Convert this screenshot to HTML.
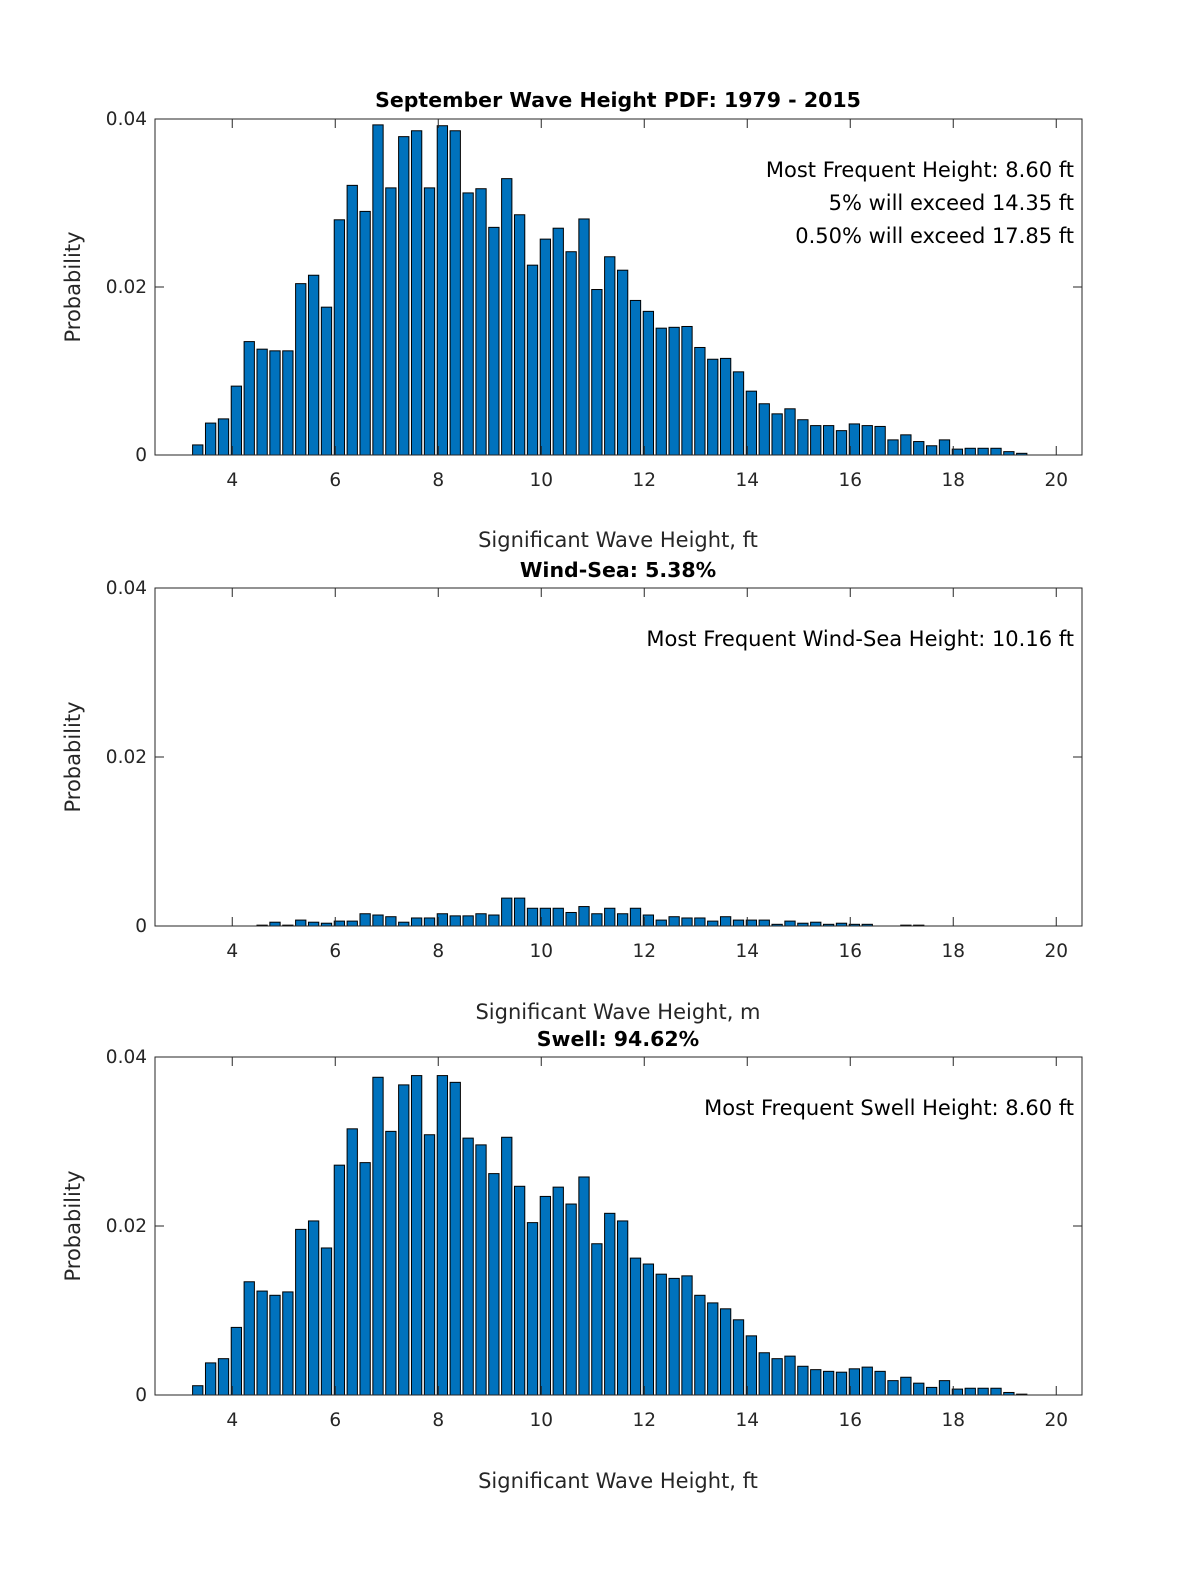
<!DOCTYPE html>
<html><head><meta charset="utf-8"><style>
body{margin:0;background:#fff;}
svg{display:block;font-family:"DejaVu Sans","Liberation Sans",sans-serif;}
</style></head><body>
<svg id="fig" width="1200" height="1575" viewBox="0 0 1200 1575" xmlns="http://www.w3.org/2000/svg"></svg>
<script>
const binStart = 3.33;
const binStep = 0.25;
const xTicks = [4, 6, 8, 10, 12, 14, 16, 18, 20];
const yTicks = [0, 0.02, 0.04];
const yTickLabels = ["0", "0.02", "0.04"];
const totalValues = [.0012,.0038,.0043,.0082,.0135,.0126,.0124,.0124,.0204,.0214,.0176,.0280,.0321,.0290,.0393,.0318,.0379,.0386,.0318,.0392,.0386,.0312,.0317,.0271,.0329,.0286,.0226,.0257,.0270,.0242,.0281,.0197,.0236,.0220,.0184,.0171,.0151,.0152,.0153,.0128,.0114,.0115,.0099,.0076,.0061,.0049,.0055,.0042,.0035,.0035,.0029,.0037,.0035,.0034,.0018,.0024,.0016,.0011,.0018,.0007,.0008,.0008,.0008,.0004,.0002];
const windValues = [0,0,0,0,0,.0001,.00045,.0001,.0007,.00045,.00033,.00058,.00058,.00145,.0013,.0011,.00045,.00095,.00095,.00145,.0012,.0012,.00145,.0013,.0033,.0033,.0021,.0021,.0021,.0016,.0023,.00145,.0021,.00145,.0021,.0013,.0007,.0011,.00095,.00095,.00058,.0011,.0007,.0007,.0007,.0002,.00058,.00033,.00045,.0002,.00033,.0002,.0002,0,0,.0001,.0001,0,0,0,0,0,0,0,0];
const swellValues = [.0011,.0038,.0043,.0080,.0134,.0123,.0118,.0122,.0196,.0206,.0174,.0272,.0315,.0275,.0376,.0312,.0367,.0378,.0308,.0378,.0370,.0304,.0296,.0262,.0305,.0247,.0204,.0235,.0246,.0226,.0258,.0179,.0215,.0206,.0162,.0155,.0143,.0138,.0141,.0118,.0109,.0102,.0089,.0070,.0050,.0043,.0046,.0034,.0030,.0028,.0027,.0031,.0033,.0028,.0017,.0021,.0014,.0009,.0017,.0007,.0008,.0008,.0008,.0003,.0001];

const NS="http://www.w3.org/2000/svg";
const svg=document.getElementById('fig');
function mk(tag,attrs,parent,text){const e=document.createElementNS(NS,tag);for(const k in attrs)e.setAttribute(k,attrs[k]);if(text!==undefined)e.textContent=text;(parent||svg).appendChild(e);return e;}

const X0=155,X1=1082,XMIN=2.5,XMAX=20.5;
function xs(v){return X0+(v-XMIN)/(XMAX-XMIN)*(X1-X0);}

const panels=[
 {name:'total',top:119,bot:455,vals:totalValues,title:'September Wave Height PDF: 1979 - 2015',titleY:107,xlabel:'Significant Wave Height, ft',xlabelY:547,notes:['Most Frequent Height: 8.60 ft','5% will exceed 14.35 ft','0.50% will exceed 17.85 ft']},
 {name:'wind-sea',top:588,bot:926,vals:windValues,title:'Wind-Sea: 5.38%',titleY:577,xlabel:'Significant Wave Height, m',xlabelY:1019,notes:['Most Frequent Wind-Sea Height: 10.16 ft']},
 {name:'swell',top:1057,bot:1395,vals:swellValues,title:'Swell: 94.62%',titleY:1046,xlabel:'Significant Wave Height, ft',xlabelY:1488,notes:['Most Frequent Swell Height: 8.60 ft']}
];

panels.forEach(p=>{
 const g=mk('g',{});
 
 
 const ys=v=>p.bot-(v/0.04)*(p.bot-p.top);
 const bw=binStep*(X1-X0)/(XMAX-XMIN)*0.8;
 p.vals.forEach((v,i)=>{
  if(v<=0)return;
  const c=binStart+i*binStep;
  const r=mk('rect',{x:xs(c)-bw/2,y:ys(v),width:bw,height:p.bot-ys(v),fill:'#0072BD',stroke:'#000','stroke-width':1},g);
  
  
 });
 const box=mk('rect',{x:X0,y:p.top,width:X1-X0,height:p.bot-p.top,fill:'none',stroke:'#262626','stroke-width':1},g);
 
 
 xTicks.forEach(t=>{
  const x=xs(t);
  mk('line',{x1:x,x2:x,y1:p.bot,y2:p.bot-9,stroke:'#262626'},g);
  mk('line',{x1:x,x2:x,y1:p.top,y2:p.top+9,stroke:'#262626'},g);
  const tl=mk('text',{x:x,y:p.bot+31,'text-anchor':'middle','font-size':18.5,fill:'#262626'},g,String(t));
  
  
 });
 yTicks.forEach((t,i)=>{
  const y=ys(t);
  mk('line',{x1:X0,x2:X0+9,y1:y,y2:y,stroke:'#262626'},g);
  mk('line',{x1:X1,x2:X1-9,y1:y,y2:y,stroke:'#262626'},g);
  const tl=mk('text',{x:X0-8,y:y+6,'text-anchor':'end','font-size':18.5,fill:'#262626'},g,yTickLabels[i]);
  
  
 });
 const tt=mk('text',{x:618,y:p.titleY,'text-anchor':'middle','font-size':20.5,'font-weight':'bold',fill:'#000'},g,p.title);
 
 
 const xl=mk('text',{x:618,y:p.xlabelY,'text-anchor':'middle','font-size':21,fill:'#262626'},g,p.xlabel);
 
 
 const my=(p.top+p.bot)/2;
 const yl=mk('text',{x:80,y:my,'text-anchor':'middle','font-size':21,fill:'#262626',transform:'rotate(-90 80 '+my+')'},g,'Probability');
 
 
 p.notes.forEach((n,i)=>{
  const nt=mk('text',{x:1074,y:p.top+58+i*33,'text-anchor':'end','font-size':21,fill:'#000'},g,n);
  
  
 });
});
</script>
</body></html>
